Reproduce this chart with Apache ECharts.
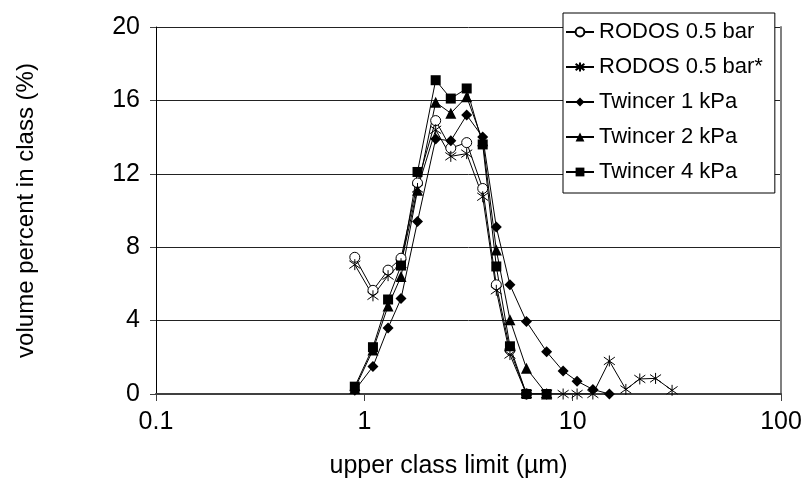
<!DOCTYPE html>
<html><head><meta charset="utf-8">
<script src="https://cdn.jsdelivr.net/npm/echarts@6/dist/echarts.min.js"></script>
<style>html,body{margin:0;padding:0;background:#fff}#c{width:806px;height:492px}</style>
</head><body><div id="c"></div>
<script>
// upper class limits (µm)
var classLimits = [0.9, 1.1, 1.3, 1.5, 1.8, 2.2, 2.6, 3.1, 3.7, 4.3, 5.0, 6.0, 7.5, 9.0, 10.5, 12.5, 15, 18, 21, 25, 30];
var rodos = [7.45, 5.65, 6.75, 7.4, 11.5, 14.9, 13.4, 13.7, 11.2, 5.95, 2.4, 0];
var rodosStar = [7.05, 5.35, 6.45, 7.1, 11.2, 14.4, 12.95, 13.1, 10.75, 5.65, 2.15, 0, 0, 0, 0, 0, 1.8, 0.25, 0.82, 0.85, 0.2];
var twincer1 = [0.2, 1.5, 3.6, 5.2, 9.4, 13.9, 13.8, 15.2, 14.0, 9.1, 5.95, 3.95, 2.3, 1.25, 0.7, 0.25, 0];
var twincer2 = [0.3, 2.4, 4.8, 6.4, 11.1, 15.9, 15.3, 16.2, 13.8, 7.85, 4.05, 1.4, 0];
var twincer4 = [0.4, 2.55, 5.15, 7.0, 12.1, 17.1, 16.1, 16.65, 13.6, 6.95, 2.6, 0, 0];
var seriesNames = ['RODOS 0.5 bar', 'RODOS 0.5 bar*', 'Twincer 1 kPa', 'Twincer 2 kPa', 'Twincer 4 kPa'];
var yTicks = [0, 4, 8, 12, 16, 20];

function pairs(vals) { return vals.map(function (v, i) { return [classLimits[i], v]; }); }
var starPath = 'path://M5,0 L5,10 M0,1.5 L10,8.5 M0,8.5 L10,1.5';
var font = 'Liberation Sans, Arial, sans-serif';

function mk(name, vals, symbol, size, itemStyle) {
  return {
    name: name, type: 'line', data: pairs(vals), symbol: symbol, symbolSize: size,
    showAllSymbol: true, animation: false,
    lineStyle: { color: '#000', width: 1 },
    itemStyle: itemStyle,
    emphasis: { disabled: true }
  };
}

var chart = echarts.init(document.getElementById('c'), null, { renderer: 'canvas' });
chart.setOption({
  animation: false,
  grid: { left: 156, right: 25, top: 27, bottom: 98, containLabel: false },
  legend: {
    orient: 'vertical', left: 563, top: 13,
    backgroundColor: '#fff', borderColor: '#000', borderWidth: 1,
    padding: [8, 12, 10, 2], itemGap: 13, itemWidth: 28, itemHeight: 11,
    textStyle: { fontFamily: font, fontSize: 22, color: '#000', lineHeight: 22 },
    data: seriesNames
  },
  xAxis: {
    type: 'log', logBase: 10, min: 0.1, max: 100,
    name: 'upper class limit (µm)', nameLocation: 'middle', nameGap: 60,
    nameTextStyle: { fontFamily: font, fontSize: 25, color: '#000', padding: [0, 40, 0, 0] },
    axisLine: { show: true, lineStyle: { color: '#404040', width: 2 } },
    axisTick: { show: true, length: 7, lineStyle: { color: '#404040', width: 1 } },
    minorTick: { show: false },
    axisLabel: { fontFamily: font, fontSize: 25, color: '#000', margin: 16,
      formatter: function (v) { return String(+v.toPrecision(3)); } },
    splitLine: { show: false }
  },
  yAxis: [{
    type: 'value', min: yTicks[0], max: yTicks[yTicks.length - 1], interval: 4,
    name: 'volume percent in class (%)', nameLocation: 'middle', nameGap: 118,
    nameTextStyle: { fontFamily: font, fontSize: 24, color: '#000' },
    axisLine: { show: true, lineStyle: { color: '#000', width: 1 } },
    axisTick: { show: true, length: 6, lineStyle: { color: '#404040' } },
    axisLabel: { fontFamily: font, fontSize: 25, color: '#000', margin: 16 },
    splitLine: { show: true, lineStyle: { color: '#222', width: 1 } }
  }, {
    type: 'value', min: 0, max: 20, interval: 4, position: 'right',
    axisLine: { show: true, lineStyle: { color: '#808080', width: 2 } },
    axisTick: { show: false }, axisLabel: { show: false }, splitLine: { show: false }
  }],
  series: [
    mk(seriesNames[0], rodos, 'circle', 10, { color: '#fff', borderColor: '#000', borderWidth: 1 }),
    mk(seriesNames[1], rodosStar, starPath, 11, { color: 'rgba(0,0,0,0)', borderColor: '#000', borderWidth: 1 }),
    mk(seriesNames[2], twincer1, 'diamond', 11, { color: '#000', borderColor: '#000', borderWidth: 0 }),
    mk(seriesNames[3], twincer2, 'triangle', 11, { color: '#000', borderColor: '#000', borderWidth: 0 }),
    mk(seriesNames[4], twincer4, 'rect', 10, { color: '#000', borderColor: '#000', borderWidth: 0 })
  ]
});
</script>
</body></html>
